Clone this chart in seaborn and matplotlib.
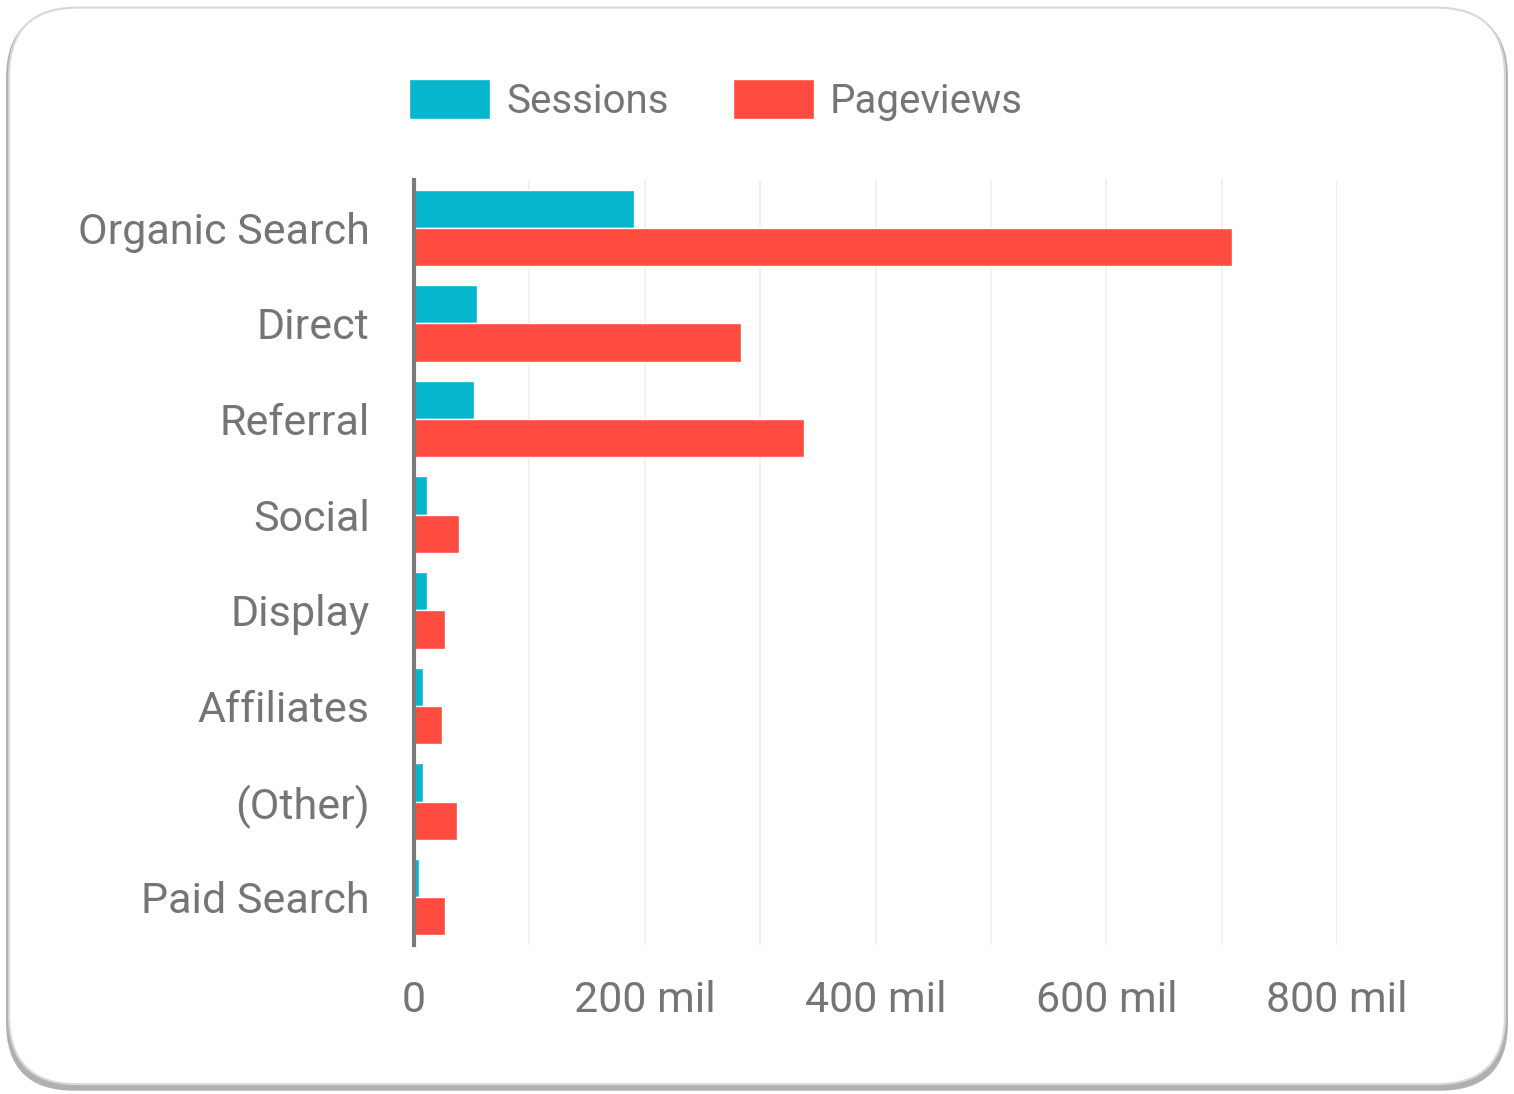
import pandas as pd
import matplotlib.pyplot as plt
import seaborn as sns
from matplotlib.patches import FancyBboxPatch, Patch
from matplotlib.ticker import MultipleLocator

# values in millions
channels = ['Organic Search', 'Direct', 'Referral', 'Social', 'Display',
            'Affiliates', '(Other)', 'Paid Search']
sessions = [191, 55, 52, 11, 11, 8, 8, 4]
pageviews = [709, 283, 338, 39, 27, 24, 37, 27]
tick_vals = [0, 200, 400, 600, 800]
tick_labels = ['0', '200 mil', '400 mil', '600 mil', '800 mil']

df = pd.DataFrame({
    'channel': channels * 2,
    'value': sessions + pageviews,
    'metric': ['Sessions'] * len(channels) + ['Pageviews'] * len(channels),
})

sns.set_theme(style='white')
plt.rcParams['font.family'] = ['Roboto', 'DejaVu Sans']
text_color = '#757575'
palette = {'Sessions': '#05b6cc', 'Pageviews': '#ff4b40'}

fig = plt.figure(figsize=(15.14, 10.94), dpi=100)

# rounded card with a soft shadow
shadow = FancyBboxPatch((0.004, 0.003), 0.992, 0.988,
                        boxstyle='round,pad=0,rounding_size=0.045',
                        transform=fig.transFigure, facecolor='#b0b0b0',
                        edgecolor='none', zorder=-2, mutation_aspect=1514 / 1094)
card = FancyBboxPatch((0.006, 0.009), 0.988, 0.984,
                      boxstyle='round,pad=0,rounding_size=0.045',
                      transform=fig.transFigure, facecolor='white',
                      edgecolor='#d8d8d8', linewidth=1.5, zorder=-1,
                      mutation_aspect=1514 / 1094)
fig.patches.extend([shadow, card])

ax = fig.add_axes([414 / 1514, 1 - 945 / 1094, (1337 - 414) / 1514, (945 - 180) / 1094])
ax.set_facecolor('none')
ax.set_zorder(2)
sns.barplot(data=df, y='channel', x='value', hue='metric', palette=palette,
            order=channels, hue_order=['Sessions', 'Pageviews'],
            width=0.8, dodge=True, saturation=1, ax=ax, legend=False)

ax.set_xlim(0, 800)
ax.set_ylim(7.5, -0.5)
ax.xaxis.set_minor_locator(MultipleLocator(100))
ax.set_xticks(tick_vals)
ax.set_xticklabels(tick_labels)
ax.grid(axis='x', which='both', color='#efefef', linewidth=1.2)
ax.set_axisbelow(True)
for side in ['top', 'right', 'bottom']:
    ax.spines[side].set_visible(False)
ax.spines['left'].set_color('#7a7a7a')
ax.spines['left'].set_linewidth(3)
ax.tick_params(axis='both', which='both', length=0, labelsize=31, colors=text_color)
ax.tick_params(axis='y', pad=32)
ax.tick_params(axis='x', pad=25)
ax.set_xlabel('')
ax.set_ylabel('')

handles = [Patch(facecolor=palette[k], label=k) for k in ['Sessions', 'Pageviews']]
fig.legend(handles=handles, loc='center', bbox_to_anchor=(0.473, 1 - 100 / 1094),
           ncol=2, frameon=False, fontsize=29, labelcolor=text_color,
           handlelength=2.0, handleheight=1.15, handletextpad=0.4, columnspacing=1.6)

fig.savefig('out.png', dpi=100)
